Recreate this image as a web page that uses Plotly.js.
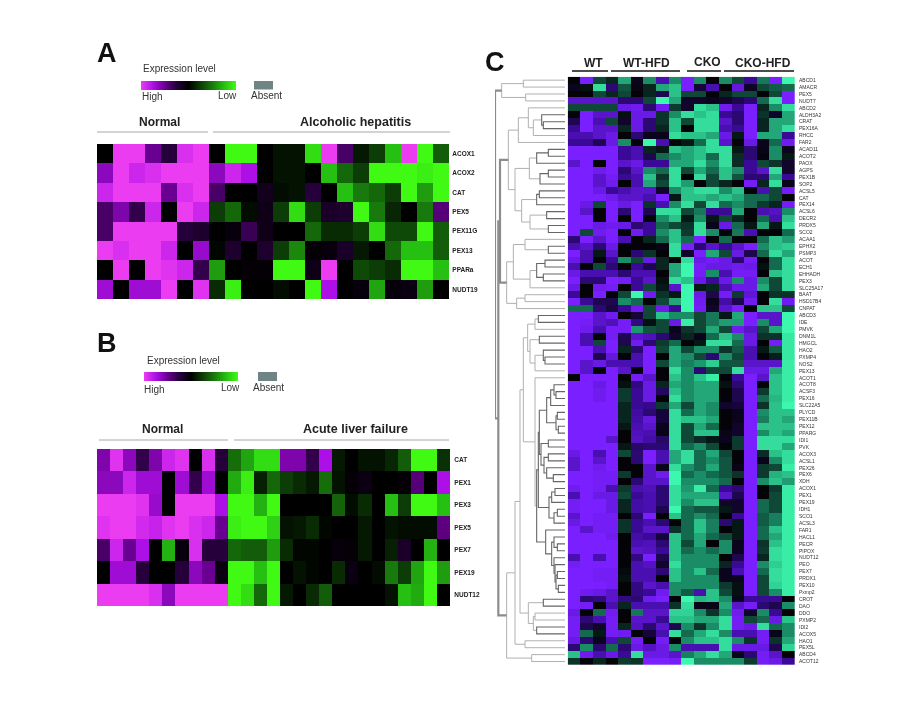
<!DOCTYPE html>
<html>
<head>
<meta charset="utf-8">
<script src="https://cdn.plot.ly/plotly-3.0.1.min.js"></script>
<style>html,body{margin:0;padding:0;background:#fff}#plot{width:924px;height:708px;filter:blur(0.55px)}</style>
</head>
<body>
<div id="plot"></div>
<script>
const genesA = ["ACOX1","ACOX2","CAT","PEX5","PEX11G","PEX13","PPARa","NUDT19"];
const valuesA = [
[0,-4,-4,-2,-1,-3.7,-4,0,4,4,0,.3,.3,3.5,-4,-1.5,.4,1,3,-4,4,1.5],
[-2.5,-4,-3.5,-3.7,-4,-4,-4,-2.5,-3.5,-3,0,.3,.3,0,3,1.7,1,4,4,4,3.8,4],
[-3.5,-4,-4,-4,-2,-3.7,-4,-1.5,0,0,-.5,.2,.3,-1,0,3,2,1.7,1,4,2.5,4],
[-1.5,-2.3,-1.2,-3.5,0,-4,-3.5,1,1.7,.2,-.4,1,3.5,1,-.7,-.8,4,2,.6,0,2,-1.7],
[-1.5,-4,-4,-4,-4,-1,-.8,0,-.2,-1.3,-.4,0,0,1.7,.7,.7,1,3.5,1.2,1.2,4,1.5],
[-4,-3.7,-4,-4,-3.5,0,-2.7,.1,-.8,0,-.8,1,2.2,-.1,-.2,-.7,.4,0,1.7,3,3,1.5],
[0,-4,0,-4,-3.8,-3.5,-1.2,2.5,0,-.1,-.1,4,4,-.4,-4,0,1.2,1,.7,4,4,3],
[-2.8,0,-2.8,-2.8,-4,0,-3.8,.7,3.8,0,0,.2,0,4,-3,0,-.2,2.6,-.2,-.3,2.5,0]
];
const genesB = ["CAT","PEX1","PEX3","PEX5","PEX7","PEX19","NUDT12"];
const valuesB = [
[-2.3,-3.8,-2.5,-1.2,-2.3,-3.5,-3.8,0,-3.7,-1,1.8,2.6,3.5,3.5,-2.3,-2.3,-1.2,-3,.4,0,.3,.3,.6,1.5,4,4,.8],
[-2.5,-2.5,-3.5,-2.8,-2.8,0,-2.8,-1.2,-2.8,0,2.7,3.8,.5,1.7,1,.7,.4,1.8,.3,-.1,-.3,0,0,-.1,-1.7,0,-3],
[-4,-4,-4,-3.8,-2.7,0,-4,-4,-4,-3,4,4,2.8,4,0,0,0,0,1.6,.2,.7,0,3,1,4,4,3],
[-3.8,-4,-4,-3.6,-3.4,-3.8,-4,-3.7,-3.5,-2,3.8,4,4,3.3,.3,.4,.7,.1,0,0,.4,0,.3,.2,.2,.2,-1.8],
[-1.5,-3.5,-2,-3,0,2.8,-.2,-3.7,-1,-1,1.7,1.5,1.5,2.5,.7,.1,.1,0,-.2,-.1,.4,0,.5,-.7,0,2.8,0],
[0,-2.8,-2.8,-1,0,0,-1,-2.5,-2,-.3,4,4,3,4,0,.3,.1,0,.7,-.3,0,.2,2,1,2.6,4,2.5],
[-4,-4,-4,-4,-3.7,-2.5,-4,-4,-4,-4,4,3.5,1.7,4,.4,0,.7,1.5,0,0,0,0,.3,3,2.7,4,0]
];
const genesC = ["ABCD1","AMACR","PEX5","NUDT7","ABCD2","ALDH3A2","CRAT","PEX16A","RHCC","FAR2","ACAD11","ACOT2","PAOX","AGPS","PEX1B","SOP2","ACSL5","CAT","PEX14","ACSL6","DECR2","PRDX5","SCO2","ACAA1","EPHX2","PSMP3","ACOT","ECH1","EHHADH","PEX3","SLC25A17","BAAT","HSD17B4","CNPAT","ABCD3","IDE","PMVK","DNM1L","HMGCL","HAO2","PXMP4","NOS2","PEX13","ACOT1","ACOT8","ACSF3","PEX16","SLC22A5","PLYCD","PEX11B","PEX12","PPARG","IDI1","PVK","ACOX3","ACSL1","PEX26","PEX6","XDH","ACOX1","PEX1","PEX19","IDH1","SCO1","ACSL3","FAR1","HACL1","PECR","PIPOX","NUDT12","PEO","PEX7","PRDX1","PEX10","Pxmp2","CROT","DAO","DDO","PXMP2","IDI2","ACOX5","HAO1","PEX5L","ABCD4","ACOT12"];
const valuesC = [
[0,-4,1,.5,2.5,-.3,2,-2.5,2,-4,2,0,2,1,-2,1.7,-4,4],
[-.3,.2,3.5,-1.5,1.2,-.2,.5,2.5,3,-4,-.7,-2.5,0,-3.3,-.4,1,1.3,1.5],
[0,0,1,.5,1,0,.5,-1,3,1,1,0,.5,1,1,0,1,-4],
[-3,-3,-3,-3,-1.5,-1.5,1,4,2.5,-.5,-.5,-.3,-.5,-1,-1.5,1.5,3.5,-4],
[1,1,1,1,-3.5,-3.7,-1.5,-3.7,.8,-.5,3.5,3,-3.7,-2,-4,.5,2,3.5],
[0,-4,-3,-3,.2,-3.5,-3.5,.7,2,3.5,3,3.5,-2,-1.5,-4,.7,-.5,2.5],
[-1,-4,-2.5,1,-.5,-3.5,-1.5,.7,3,1,3.5,3.5,-3,-1.5,-4,.5,2.5,2.5],
[-2,-4,-3,-3,.5,-3.5,-1.5,.5,3,0,3.5,3.5,-2.5,-2,-4,.5,2.5,3.5],
[-2.5,-2.5,-3,-3.5,0,-1.5,-.3,-.3,3.5,3,3,2.5,-3.5,.3,-4,2.5,2.5,-2],
[-2,-2,-1,-3.5,2,0,4,-2.5,0,.3,1.5,3.5,-3,0,-3.5,-.3,1.5,-3.7],
[-4,-4,-4,-4,-2,-2.5,.5,.3,3,2.5,3,3.5,3.5,.3,-1.5,-.2,2,-.3],
[-4,-4,-4,-4,-2,-2.5,-1,1.5,2,2.5,3,1.5,3.5,.6,-1.5,-.1,2,.3],
[-3,-4,0,-4,-3,-3.5,-2,-2,2.5,2.5,3.5,2,3.5,.6,-2,1,.7,-.5],
[-4,-4,-3.7,-4,-1.5,-3,2,1.5,3.5,1,2.5,1.5,3,2,-2,-3,3.5,-.5],
[-4,-4,-3,-3.8,-2,-2.5,3,.7,3.5,0,3.5,1,3,1.2,-1.5,-1.5,2.5,-2],
[-4,-4,-3,-3.7,0,-2.5,2.5,1,3.5,2.3,0,1,.5,0,-3.8,.5,3.5,-.3],
[-4,-4,-3.5,-2,-2.5,-3,-3,-.5,2,3,3.5,3.5,2,3,0,-2.5,1,-3.8],
[-4,-4,-4,-3.7,-3,-3,-2.5,-4,.3,3,3,2.5,3,2.5,1.5,1.5,1,0],
[-4,-3.5,1,-4,-3.5,-4,.7,-2.5,2,3.5,1,3.5,1.5,2,1.5,.8,.5,-3.8],
[-4,-3,0,-4,-1.5,-4,-1,3.5,3.5,1,1.7,-2,-2,2.5,0,-2.5,-2.8,2],
[-4,-4,0,-4,0,-4,0,2,3,.3,2,.3,1,.5,0,1.5,-2.5,3],
[-4,-4,-3.5,-3.7,-3.5,-1.5,-2,1.5,1,.7,3.5,-.3,-3.5,1.5,.3,2.5,.3,3.5],
[-4,1,-3.7,-4,0,-3.7,-2,2,3,.8,3.5,2,0,1.7,-2.5,0,0,1.5],
[-1.5,-4,-3,-4,-2.5,0,.5,1.5,3,1.5,-4,0,1.5,0,0,1.5,3,2.3],
[-2.5,-3,-1.5,-3.5,0,0,0,-.2,3.5,-4,-1.5,-3,-2,-3,-4,2,3,3.2],
[-4,-2.5,.3,-3,0,-1.5,.7,0,3.5,-.5,-4,2.5,1,-3.5,-1,1.5,3.5,2.5],
[-3.5,-2.5,0,-2,2,1,-3.5,.5,0,3.5,-3.5,-3.8,-3.5,-1.5,-3.8,0,1.5,3.5],
[-2.5,0,1,-1.5,0,-2,-1,.5,2.5,4,-3.8,-3.5,-3.5,-3.7,-3.5,.2,1.5,3.5],
[-3.5,-2.5,-2.5,-2.5,-1.5,-2.5,-2.5,0,2.5,4,-3.8,2,-2.5,-3.8,-3.8,0,3,3.5],
[-4,-1.5,-1.5,-4,-3.8,-2,-3,.2,3.5,3,-3.5,-2,-3.5,2,-3.5,2,1,3.5],
[-3.5,0,-3.7,-3.8,0,-2,1,.3,-3,4,.3,.5,-2.5,-3.5,-3.5,2.5,1,3.5],
[-2,0,-4,0,1,4,-3.7,.7,.3,4,-3.5,-1,-3.8,.8,-3.2,0,.7,.7],
[-4,-2,-1,-1,2,1.5,0,1,2.5,4,-3.7,-.3,-2.3,-1,-3.7,0,3.5,-3.7],
[1.5,1.5,-1.5,-.8,-2,-3.7,1,-3.7,-2,4,-3.8,-.5,-3,-4,0,3,3,1],
[-4,-4,-3,-3.7,0,-.7,1,3,2,2,1,1.7,.3,2.5,-4,-3,-3,4],
[-4,-3.8,-3,-2.7,-3.8,-1.7,.2,1,-3.5,3.8,1,1.7,2.3,2.3,-4,2,-3,4],
[-4,-3.7,-2.5,-3.8,-3.8,2.2,1.2,1,-.3,.7,1,2.5,1,-3.7,-3,1,2.5,4],
[-4,-2.5,0,-3.8,-1,-3,-2.7,-1.5,-.5,.5,-.3,1.5,3,2,-3.5,.7,.7,3.7],
[-4,-2.5,1,-4,-1,-3.7,-1.5,.8,1.5,0,.3,3.5,3.5,1.5,-3.5,0,-3.8,3.7],
[-4,-4,-2.5,-4,.5,-1.5,-4,1,2.5,1,2,2,.7,1.3,-2.5,.3,1.3,3.7],
[-4,-4,-1,-3.3,0,-2.5,-4,0,2.5,2,1,-1.5,2,1,-2.5,0,.4,3.7],
[-4,-3,-3.5,-2.5,-2.5,-2.5,-4,1,2.5,1.8,2.2,3.2,1.2,1.2,-3,-3,-3,3.8],
[-4,-3,0,-4,-3,0,-4,0,3.5,2,-1.5,1,1,3.5,-3.5,-3.5,2.5,3.8],
[0,-4,-4,-4,0,-3.8,-3,0,3,2,3,3.8,0,-2,-4,-3,3,3.8],
[-4,-4,-3.5,-4,.2,-1.7,-3.5,.5,2.5,2,2.5,2.5,.2,-1.5,-4,0,3,3.8],
[-4,-4,-3.7,-4,.8,-2,-3.5,-1.2,3,2,2.5,2.5,0,-1,-4,.8,3,3.8],
[-4,-4,-3.7,-4,.8,-2,-3.5,0,3.5,2,2.5,2.5,0,-1,-4,1.5,2.8,3.8],
[-4,-4,-4,-4,.5,-2,-1.8,.8,2.5,1,2.5,2,-.5,-.7,-4,.7,3,4],
[-4,-4,-4,-4,.5,-2.2,-1.5,-.7,3.5,1.5,2.5,2,0,-.3,-4,2,3,3],
[-4,-4,-4,-4,.5,-2.3,-3.3,-.7,3.5,3,3,2.5,0,-.3,-4,1.8,3,2.5],
[-4,-4,-4,-4,.3,-2.5,-3,-.3,3.5,1,2.5,1.5,0,-.5,-4,3,3,3],
[-4,-4,-4,-4,0,-2.7,-2.5,-.2,3.5,1,3,3,-.2,-.5,-4,2,3,2.5],
[-4,-4,-4,-3,0,-2.8,-2.3,-1.3,3.5,1,.6,.3,-.3,.8,-4,3.5,3.5,3.5],
[-4,-4,-4,-4,.3,-1.3,-1.5,-1.5,3.5,1.5,2,1,0,.8,-4,3.5,3.5,2.5],
[-3.5,-4,-2.5,-4,1,-1.5,-4,-2.5,2.5,3.5,1.5,2.5,1,0,-4,.6,3,3.5],
[-3,-4,-3,-4,0,-1.5,-4,-2.5,2.5,3.5,1.5,2,1.2,0,-4,-.3,2,3.5],
[-3,-4,-3.7,-4,0,0,-3,-.3,3.5,2,1.5,2.5,1.2,-.2,-4,.8,1,3.8],
[-4,-4,-3.8,-3.8,.8,0,-3,-3.7,4,1.5,2,1.5,1.2,.7,-4,.8,2.7,3],
[-4,-4,-3.8,-3.8,0,-1.5,-3,-3,4,2,2,2,1.5,0,-4,2,3,2.3],
[-3.7,-4,-3.8,-2.5,.8,-2.5,-2.7,-1.5,3.5,2.2,3.8,1.5,-2,-1.5,-4,0,.8,3.8],
[-2.5,-4,-3.5,-3.5,1,-2,-2.5,-1.5,3.5,2.5,2.5,2.5,-3,-1,-4,0,1,3.8],
[-3.8,-4,-4,-3.5,.5,-2.3,-2.5,-1.5,3.5,2,3,3,-.5,-.5,-4,1.5,1,3.8],
[-3.8,-4,-4,-3.5,.5,-2.3,-2.5,-1,4,1.5,1.2,1.2,.3,-.5,-4,1.5,1,3.8],
[-3,-4,-3.8,-3.8,0,-1.5,-4,0,3,1.5,2,1.5,0,-2,-4,1.3,1.8,3.8],
[-3.5,-4,-3.8,-3.8,.7,-2,-2.5,-1.5,0,1.5,3,1.8,-1.5,.3,-4,1.3,1.8,3.8],
[-4,-3,-3.8,-3.8,.7,-2,-3,-3,.7,1.5,3,1.8,0,.3,-4,1.5,3,3.8],
[-4,-4,-4,-3.7,0,-2.3,-2,-.7,3,1.5,2.5,1.5,1,.3,-4,1.5,2.5,3.8],
[-4,-4,-4,-4,0,-2.5,-2.7,-1.5,3,1,2.5,0,2,-.3,-4,.7,3,3.8],
[-4,-4,-4,-4,0,-3,-2.8,-2,3,1.5,2,1.5,2,-.3,-4,.8,3.5,3.8],
[-2.5,-4,-2.5,-4,0,-1.7,-4,-1,3,2,2,2,0,-1,-4,.5,3.5,3.8],
[-3.8,-4,-4,-4,0,-2.5,-2.8,-.5,3.5,2,2,2,.5,-2,-4,2,3.2,3.8],
[-4,-4,-3.8,-3.8,.1,-2.5,-2.5,-1.5,3,2,3,1.5,-.3,-2.5,-4,1.5,3.5,3.8],
[-4,-4,-3.8,-3.8,.2,-2.5,-2.5,0,3,2,2,2,-.3,-.3,-4,1,3.5,3.8],
[-4,-4,-4,-3.8,0,-1.7,-3,-2.5,2,2,2,2,.8,.2,-4,1,3.3,3.8],
[-4,-3.7,-3.5,-3,0,-1.7,-2,-3.7,2,1.3,-2.5,3,1,.2,-4,1,2,3.8],
[-4,-1.5,-1.7,-3,-1.7,-1.5,-3.7,-4,0,4,2.8,3,2,-.3,-2,-2,-2,0],
[-4,-3.8,0,-2.5,.5,-2.5,-2.5,-2.5,.7,3.5,-.2,-.2,2.5,-3,-3.8,-1.5,-1,2],
[-3.5,0,1.5,-3.7,0,1.7,-3,-3,3.3,3.3,2,.7,2,-3.7,-.5,2,-2,0],
[-3.8,-1.5,-2.5,-3.8,0,-3,-3,-2,3,3,2.5,2.5,3.5,-3.8,1,1.5,-3.5,3],
[-3.8,-1,-.5,-3.8,.5,-2.8,-1.5,-3,-1,2,.7,2,3.5,-3.8,-3.5,3.5,1.5,2],
[-3.8,1.5,.3,-3.8,-3.7,0,-.7,-2.5,3.5,1.5,2.5,3.5,2,-2.5,-2.5,-3.8,-.3,2],
[-3.5,-1.5,-.3,-2.5,1,-3.8,0,-3.8,0,2,3,3,3.5,2,.7,-3.8,.7,2.5],
[-1.5,2,-1.5,1.5,-1.5,-3.5,-2.8,-3.5,2,-2.5,-2.5,-2.5,3.5,-3.5,-3.5,-3.5,-1,3.3],
[3,-3.7,-2.5,-3.5,-2,3.5,-3.5,-3.5,-3,1.8,2.5,3.5,2.5,-.3,-1.5,-3.8,-3,0],
[.7,0,.5,0,.8,.7,-4,-4,-3.8,4,2,2,2,2,.8,-3.8,-3.5,-2]
];
// Dendrogram merges: [merge depth, child, child]; a plain number is a row of valuesC.
const treeTop = [65,[130,0,1],[137,2,3]];
const tree4to9 = [115,[145,4,[160,[185,5,[190,6,7]],8]],9];
const tree10to22 = [105,[148,[170,[205,10,11],12],[180,[205,13,14],15]],[125,[170,[178,16,17],18],[150,[200,19,20],[205,21,22]]]];
const tree23to33 = [80,[100,[135,23,[205,24,25]],[150,[170,[195,26,27],[190,28,29]],30]],[110,[135,31,32],33]];
const treeUpper = [60,[85,tree4to9,tree10to22],tree23to33];
const tree34to42 = [143,[165,[175,34,35],36],[150,[178,37,38],[165,[190,39,[195,40,41]],42]]];
const groupA = [200,[212,[222,44,[228,45,46]],47],[228,[232,48,49],[235,50,51]]];
const groupB = [183,[205,52,53],[192,[205,54,55],[200,56,[220,57,58]]]];
const groupC = [207,[215,[225,59,60],61],[222,[232,62,63],64]];
const groupD = [197,65,[215,[222,66,[232,67,68]],[222,69,[225,70,[228,[232,71,72],[235,73,74]]]]]];
const tree75to80 = [145,[190,75,76],[160,[165,77,78],[170,79,80]]];
const treeLower = [80,[105,[120,[130,tree34to42,[165,43,[170,[175,[178,groupA,groupB],groupC],groupD]]],tree75to80],[135,81,82]],[155,83,84]];
const dendrogramTree = [45,treeTop,[55,treeUpper,treeLower]];

const cA = [[0,'#ec3cf2'],[.125,'#ac10e6'],[.25,'#6a0092'],[.375,'#25003a'],[.5,'#000000'],[.625,'#0d3d06'],[.75,'#187a0c'],[.875,'#26c012'],[1,'#40fa14']];
const cC = [[0,'#7a1fff'],[.25,'#3a0a96'],[.5,'#030308'],[.75,'#1a8c66'],[1,'#3cf8ae']];
const W=924,H=708;
const px=x=>x/W, py=y=>1-y/H;
const dom=(a,b)=>[a,b];
const rowIdx=genesC.map((_,i)=>i);

function colorbar(x,y,len){return {orientation:'h',x:px(x),y:py(y),xanchor:'left',yanchor:'top',xref:'paper',yref:'paper',len:len,lenmode:'pixels',thickness:9,thicknessmode:'pixels',outlinewidth:0,ticks:'',showticklabels:false,xpad:0,ypad:0,borderwidth:0};}

const traces=[
 {type:'heatmap',z:valuesA,y:genesA,xaxis:'x',yaxis:'y',colorscale:cA,zmin:-4,zmax:4,colorbar:colorbar(141,81,95),hoverinfo:'z'},
 {type:'heatmap',z:valuesB,y:genesB,xaxis:'x2',yaxis:'y2',colorscale:cA,zmin:-4,zmax:4,colorbar:colorbar(144,372,94),hoverinfo:'z'},
 {type:'heatmap',z:valuesC,y:rowIdx,xaxis:'x3',yaxis:'y3',colorscale:cC,zmin:-4,zmax:4,showscale:false,hoverinfo:'z'}
];

// walk the tree through the shared row axis
const seg={thin:{x:[],y:[]},dark:{x:[],y:[]},thick:{x:[],y:[]}};
function walk(node){
  if(typeof node==='number') return {y:node,d:255};
  const a=walk(node[1]),b=walk(node[2]),d=node[0];
  const s=d<=60?seg.thick:(d>=170?seg.dark:seg.thin);
  s.x.push(a.d,d,d,b.d,null);s.y.push(a.y,a.y,b.y,b.y,null);
  return {y:(a.y+b.y)/2,d};
}
walk(dendrogramTree);
[[seg.thin,'#b0b0b0',1],[seg.dark,'#666666',1.1],[seg.thick,'#8c8c8c',2.2]].forEach(([s,c,w])=>{
  traces.push({type:'scatter',mode:'lines',x:s.x,y:s.y,xaxis:'x4',yaxis:'y3',line:{color:c,width:w},hoverinfo:'skip',showlegend:false,connectgaps:false});
});

const hidden={visible:false,fixedrange:true};
const clearTick={ticks:'outside',tickcolor:'rgba(0,0,0,0)'};
const geneFont={family:'Liberation Sans, Arial, sans-serif',size:6.5,color:'#222',weight:'bold'};
const layout={
 width:W,height:H,margin:{l:0,r:0,t:0,b:0},paper_bgcolor:'#fff',plot_bgcolor:'#fff',showlegend:false,
 font:{family:'Liberation Sans, Arial, sans-serif',color:'#222'},
 xaxis:{...hidden,domain:dom(px(97),px(449)),anchor:'y'},
 yaxis:{domain:dom(py(299),py(144)),anchor:'x',side:'right',autorange:'reversed',showgrid:false,zeroline:false,showline:false,...clearTick,ticklen:1,tickfont:geneFont},
 xaxis2:{...hidden,domain:dom(px(97),px(450)),anchor:'y2'},
 yaxis2:{domain:dom(py(606),py(449)),anchor:'x2',side:'right',autorange:'reversed',showgrid:false,zeroline:false,showline:false,...clearTick,ticklen:2,tickfont:geneFont},
 xaxis3:{...hidden,domain:dom(px(567.7),px(795)),anchor:'y3'},
 yaxis3:{domain:dom(py(665),py(76.7)),anchor:'x3',side:'right',range:[84.5,-0.5],showgrid:false,zeroline:false,showline:false,...clearTick,ticklen:2,tickmode:'array',tickvals:rowIdx,ticktext:genesC,tickfont:{family:'Liberation Sans, Arial, sans-serif',size:5,color:'#333'}},
 xaxis4:{...hidden,domain:dom(px(495),px(565)),anchor:'free',position:0,range:[45,255]},
 annotations:[],shapes:[]
};
function txt(t,x,y,size,bold,color){layout.annotations.push({text:bold?'<b>'+t+'</b>':t,x:px(x),y:py(y),xref:'paper',yref:'paper',xanchor:'center',yanchor:'middle',showarrow:false,font:{size,color:color||'#222'}});}
function line(x0,x1,y,c,w){layout.shapes.push({type:'line',xref:'paper',yref:'paper',x0:px(x0),x1:px(x1),y0:py(y),y1:py(y),line:{color:c,width:w}});}
function rect(x0,x1,y0,y1,c){layout.shapes.push({type:'rect',xref:'paper',yref:'paper',x0:px(x0),x1:px(x1),y0:py(y0),y1:py(y1),fillcolor:c,line:{width:0}});}

txt('A',107,53,27,true,'#111');txt('B',107,343,27,true,'#111');txt('C',495,62,27,true,'#111');
txt('Expression level',179,68,10,false,'#333');
txt('High',152,97,10,false,'#333');txt('Low',227,96,10,false,'#333');txt('Absent',266,96,10,false,'#333');
rect(254,273,81,89.5,'#6f8585');
txt('Normal',159,122,12,true);txt('Alcoholic hepatitis',355,122,12.5,true);
line(97,208,132,'#a8a8a8',1);line(213,450,132,'#a8a8a8',1);

txt('Expression level',183,360,10,false,'#333');
txt('High',154,389,10,false,'#333');txt('Low',230,387,10,false,'#333');txt('Absent',268,387,10,false,'#333');
rect(258,277,372,381,'#6f8585');
txt('Normal',162,429,12,true);txt('Acute liver failure',355,429,12.5,true);
line(99,228,440,'#a8a8a8',1);line(234,449,440,'#a8a8a8',1);

txt('WT',593,63,12,true);txt('WT-HFD',646,63,12,true);txt('CKO',707,62,12,true);txt('CKO-HFD',763,63,12,true);
line(572,608,71,'#111',1.5);line(611,680,71,'#111',1.5);line(687,721,71,'#111',1.5);line(724,794,71,'#111',1.5);

Plotly.newPlot('plot',traces,layout,{staticPlot:true,displayModeBar:false});
</script>
</body>
</html>
